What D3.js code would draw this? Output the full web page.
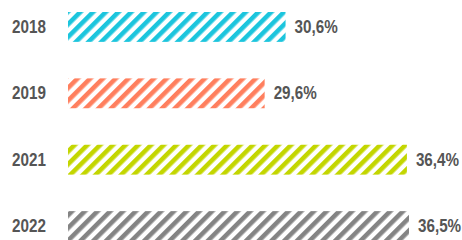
<!DOCTYPE html>
<html>
<head>
<meta charset="utf-8">
<script src="https://cdn.jsdelivr.net/npm/d3@7"></script>
<style>
  body { margin: 0; background: #fff; }
  svg { display: block; }
</style>
</head>
<body>
<svg id="chart" width="462" height="240"></svg>
<script>
const years = ["2018", "2019", "2021", "2022"];
const values = [30.6, 29.6, 36.4, 36.5];
const labels = ["30,6%", "29,6%", "36,4%", "36,5%"];
const colors = ["#1cc5dd", "#ff7f5e", "#c3d600", "#848484"];

const svg = d3.select("#chart");
const font = "'Liberation Sans', Arial, sans-serif";
const squeeze = 0.87; // the original font is a condensed one

// value axis doesn't start at zero in the original
const x = d3.scaleLinear().domain([20.2, 36.5]).range([68, 409]);
const y = d3.scaleBand().domain(years).range([12, 241]).paddingInner(0.55).paddingOuter(0);

// one hatch pattern per bar colour
const defs = svg.append("defs");
colors.forEach((c, i) => {
  const p = defs.append("pattern")
    .attr("id", "hatch" + i)
    .attr("patternUnits", "userSpaceOnUse")
    .attr("width", 9)
    .attr("height", 9)
    .attr("patternTransform", "rotate(45)");
  p.append("rect")
    .attr("width", 4.6)
    .attr("height", 9)
    .attr("fill", c);
});

svg.selectAll(".bar")
  .data(values)
  .join("rect")
  .attr("class", "bar")
  .attr("x", x(20.2))
  .attr("y", (d, i) => y(years[i]))
  .attr("width", d => x(d) - x(20.2))
  .attr("height", y.bandwidth())
  .attr("fill", (d, i) => "url(#hatch" + i + ")");

svg.selectAll(".year")
  .data(years)
  .join("text")
  .attr("class", "year")
  .attr("transform", d => "translate(12," + (y(d) + y.bandwidth() / 2) + ") scale(" + squeeze + ",1)")
  .attr("dy", "0.35em")
  .attr("font-family", font)
  .attr("font-weight", "bold")
  .attr("font-size", 17.5)
  .attr("fill", "#555")
  .text(d => d);

svg.selectAll(".val")
  .data(values)
  .join("text")
  .attr("class", "val")
  .attr("transform", (d, i) => "translate(" + (x(d) + 9) + "," + (y(years[i]) + y.bandwidth() / 2) + ") scale(" + squeeze + ",1)")
  .attr("dy", "0.35em")
  .attr("font-family", font)
  .attr("font-weight", "bold")
  .attr("font-size", 17.5)
  .attr("fill", "#555")
  .text((d, i) => labels[i]);
</script>
</body>
</html>
